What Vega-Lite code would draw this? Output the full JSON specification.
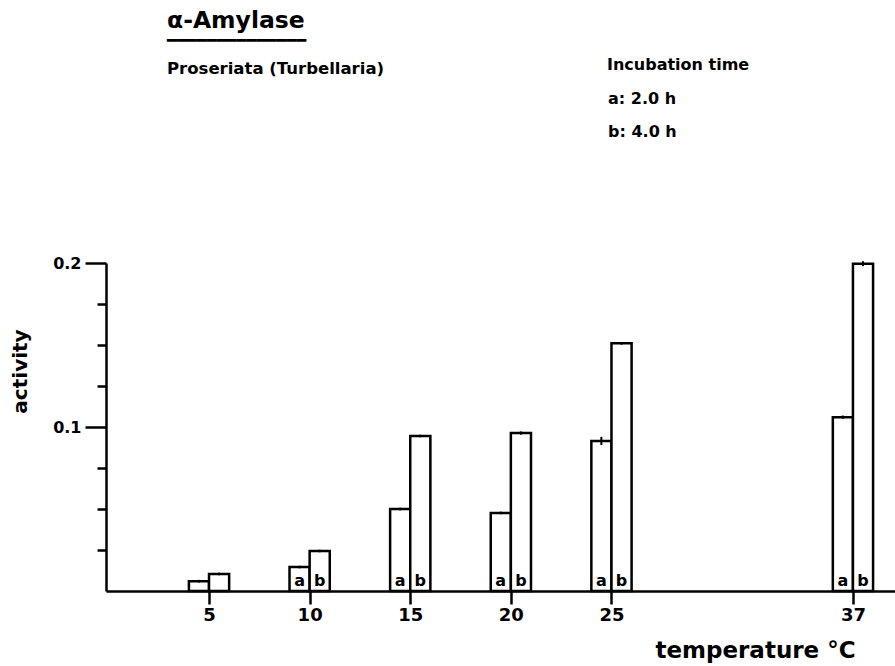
{
  "$schema": "https://vega.github.io/schema/vega-lite/v6.json",
  "width": 789,
  "height": 328,
  "autosize": {"type": "none"},
  "padding": {"left": 106, "top": 263, "right": 0, "bottom": 75},
  "background": "white",
  "title": {
    "text": "α-Amylase",
    "subtitle": ["━━━━━━━━━━━━━━", "Proseriata (Turbellaria)"],
    "anchor": "start",
    "frame": "group",
    "dx": 61,
    "offset": -20,
    "font": "DejaVu Sans",
    "fontSize": 23.5,
    "fontWeight": "bold",
    "color": "black",
    "subtitleFont": "DejaVu Sans",
    "subtitleFontSize": 16.5,
    "subtitleFontWeight": "bold",
    "subtitleColor": "black",
    "subtitleLineHeight": 28,
    "subtitlePadding": 0
  },
  "data": {
    "values": [
      {"temp": 5, "series": "a: 2.0 h", "label": "", "start": 4, "end": 5, "activity": 0.006, "lo": 0.0052, "hi": 0.0068},
      {"temp": 5, "series": "b: 4.0 h", "label": "", "start": 5, "end": 6, "activity": 0.0104, "lo": 0.0096, "hi": 0.0112},
      {"temp": 10, "series": "a: 2.0 h", "label": "a", "start": 9, "end": 10, "activity": 0.0146, "lo": 0.0138, "hi": 0.0154},
      {"temp": 10, "series": "b: 4.0 h", "label": "b", "start": 10, "end": 11, "activity": 0.0244, "lo": 0.0236, "hi": 0.0252},
      {"temp": 15, "series": "a: 2.0 h", "label": "a", "start": 14, "end": 15, "activity": 0.050, "lo": 0.0492, "hi": 0.0508},
      {"temp": 15, "series": "b: 4.0 h", "label": "b", "start": 15, "end": 16, "activity": 0.0945, "lo": 0.0937, "hi": 0.0953},
      {"temp": 20, "series": "a: 2.0 h", "label": "a", "start": 19, "end": 20, "activity": 0.0476, "lo": 0.0468, "hi": 0.0484},
      {"temp": 20, "series": "b: 4.0 h", "label": "b", "start": 20, "end": 21, "activity": 0.0963, "lo": 0.0953, "hi": 0.0973},
      {"temp": 25, "series": "a: 2.0 h", "label": "a", "start": 24, "end": 25, "activity": 0.0915, "lo": 0.089, "hi": 0.094},
      {"temp": 25, "series": "b: 4.0 h", "label": "b", "start": 25, "end": 26, "activity": 0.151, "lo": 0.1502, "hi": 0.1518},
      {"temp": 37, "series": "a: 2.0 h", "label": "a", "start": 36, "end": 37, "activity": 0.106, "lo": 0.105, "hi": 0.107},
      {"temp": 37, "series": "b: 4.0 h", "label": "b", "start": 37, "end": 38, "activity": 0.1996, "lo": 0.1981, "hi": 0.2011}
    ]
  },
  "layer": [
    {
      "mark": {"type": "bar", "stroke": "black", "strokeWidth": 2.5, "strokeJoin": "miter"},
      "encoding": {
        "x": {
          "field": "start",
          "type": "quantitative",
          "scale": {"domain": [-0.12, 39.09], "nice": false, "zero": false},
          "axis": {
            "values": [5, 10, 15, 20, 25, 37],
            "title": "temperature °C",
            "titleX": 649,
            "titleY": 66,
            "titleAlign": "center",
            "titleBaseline": "alphabetic",
            "titleAngle": 0,
            "titleFont": "DejaVu Sans",
            "titleFontSize": 23,
            "titleFontWeight": "bold",
            "titleColor": "black",
            "labelFont": "DejaVu Sans",
            "labelFontSize": 18,
            "labelFontWeight": "bold",
            "labelColor": "black",
            "labelPadding": 2,
            "tickSize": 13,
            "tickWidth": 2.5,
            "tickColor": "black",
            "domainColor": "black",
            "domainWidth": 2.5,
            "grid": false,
            "labelFlush": false,
            "labelOverlap": false
          }
        },
        "x2": {"field": "end"},
        "y": {
          "field": "activity",
          "type": "quantitative",
          "scale": {"domain": [0, 0.2], "nice": false},
          "axis": {
            "values": [0.025, 0.05, 0.075, 0.1, 0.125, 0.15, 0.175, 0.2],
            "labelExpr": "(datum.value == 0.1 || datum.value == 0.2) ? format(datum.value, '.1f') : ''",
            "tickSize": {"condition": {"test": "datum.value == 0.1 || datum.value == 0.2", "value": 21}, "value": 9},
            "tickWidth": 2.5,
            "tickColor": "black",
            "domainColor": "black",
            "domainWidth": 2.5,
            "labelFont": "DejaVu Sans",
            "labelFontSize": 16,
            "labelFontWeight": "bold",
            "labelColor": "black",
            "labelPadding": 4,
            "title": "activity",
            "titleX": -86,
            "titleY": 108,
            "titleAngle": -90,
            "titleAlign": "center",
            "titleBaseline": "middle",
            "titleFont": "DejaVu Sans",
            "titleFontSize": 20,
            "titleFontWeight": "bold",
            "titleColor": "black",
            "grid": false,
            "labelFlush": false,
            "labelOverlap": false
          }
        },
        "y2": {"datum": 0},
        "color": {
          "field": "series",
          "type": "nominal",
          "scale": {"range": ["white", "white"]},
          "legend": {
            "orient": "none",
            "legendX": 501,
            "legendY": -206,
            "title": "Incubation time",
            "titleFont": "DejaVu Sans",
            "titleFontSize": 16,
            "titleFontWeight": "bold",
            "titleColor": "black",
            "titlePadding": 18,
            "labelFont": "DejaVu Sans",
            "labelFontSize": 16,
            "labelFontWeight": "bold",
            "labelColor": "black",
            "labelOffset": -15,
            "symbolSize": 0,
            "symbolOpacity": 0,
            "symbolStrokeWidth": 0,
            "rowPadding": 17,
            "padding": 0
          }
        }
      }
    },
    {
      "mark": {"type": "rule", "stroke": "black", "strokeWidth": 2, "xOffset": 10},
      "encoding": {
        "x": {"field": "start", "type": "quantitative"},
        "y": {"field": "lo", "type": "quantitative"},
        "y2": {"field": "hi"}
      }
    },
    {
      "mark": {"type": "text", "baseline": "bottom", "align": "center", "xOffset": 10, "dy": -2, "font": "DejaVu Sans", "fontSize": 16, "fontWeight": "bold", "color": "black"},
      "encoding": {
        "x": {"field": "start", "type": "quantitative"},
        "y": {"datum": 0},
        "text": {"field": "label"}
      }
    }
  ],
  "config": {
    "view": {"stroke": null}
  }
}
